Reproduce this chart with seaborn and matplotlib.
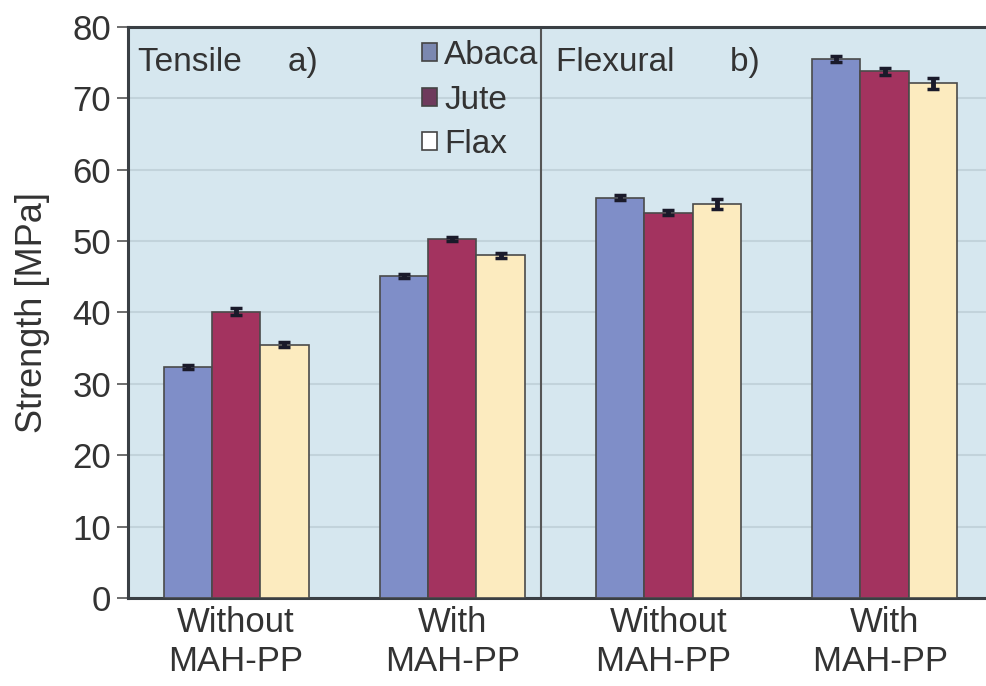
import pandas as pd
import matplotlib
matplotlib.use('Agg')
import matplotlib.pyplot as plt
import seaborn as sns
from matplotlib.patches import Patch

# ------------------------------- data -------------------------------
groups = ['Without\nMAH-PP', 'With\nMAH-PP', 'Without\nMAH-PP ', 'With\nMAH-PP ']
fibres = ['Abaca', 'Jute', 'Flax']
abaca = [32.4, 45.1, 56.1, 75.5]
jute = [40.1, 50.3, 54.0, 73.8]
flax = [35.5, 48.0, 55.2, 72.1]
abaca_err = [0.3, 0.3, 0.4, 0.4]
jute_err = [0.5, 0.3, 0.4, 0.5]
flax_err = [0.3, 0.3, 0.7, 0.8]

rows = []
for i, g in enumerate(groups):
    rows.append([g, 'Abaca', abaca[i], abaca_err[i]])
    rows.append([g, 'Jute', jute[i], jute_err[i]])
    rows.append([g, 'Flax', flax[i], flax_err[i]])
df = pd.DataFrame(rows, columns=['group', 'fibre', 'strength', 'err'])

# ------------------------------- plot -------------------------------
sns.set_style('white')
plt.rcParams['font.family'] = ['Liberation Sans', 'DejaVu Sans']
txt = '#333333'

fig = plt.figure(figsize=(9.87, 6.86), dpi=100)
ax = fig.add_axes([0.1297, 0.1283, 0.876, 0.8324])
ax.set_facecolor('#d6e7ef')

palette = {'Abaca': '#7f8ec8', 'Jute': '#a3335f', 'Flax': '#fcebbf'}
sns.barplot(data=df, x='group', y='strength', hue='fibre', hue_order=fibres,
            palette=palette, saturation=1, width=0.67, errorbar=None,
            edgecolor='#4a4a4a', linewidth=1.2, ax=ax, zorder=3, legend=False)

# error bars at the bar centres
for cont, f in zip(ax.containers, fibres):
    sub = df[df['fibre'] == f]
    xs = [b.get_x() + b.get_width() / 2 for b in cont]
    ax.errorbar(xs, sub['strength'], yerr=sub['err'], fmt='none',
                ecolor='#1a1a2a', elinewidth=3.5, capsize=4, capthick=2.5, zorder=4)

ax.set_ylim(0, 80)
ax.set_xlim(-0.5, 3.5)
ax.set_yticks(range(0, 81, 10))
ax.yaxis.grid(True, color='#c2d3db', linewidth=1.5, zorder=0)
ax.set_axisbelow(True)

ax.axvline(1.41, color='#555555', linewidth=1.5, zorder=2)

for s in ['left', 'bottom', 'top']:
    ax.spines[s].set_color('#3a3f44')
    ax.spines[s].set_linewidth(2.2)
ax.spines['right'].set_visible(False)

ax.tick_params(axis='y', direction='out', length=8, width=1.2, color='#555555',
               labelsize=25, labelcolor=txt, pad=4, left=True)
ax.tick_params(axis='x', length=0, labelsize=25, labelcolor=txt, pad=6)
for lab in ax.get_xticklabels():
    lab.set_linespacing(1.2)

ax.set_xlabel('')
ax.set_ylabel('Strength [MPa]', fontsize=26, color=txt, labelpad=16)

ax.text(0.012, 0.965, 'Tensile     a)', transform=ax.transAxes, fontsize=24,
        color=txt, va='top', ha='left')
ax.text(0.495, 0.965, 'Flexural      b)', transform=ax.transAxes, fontsize=24,
        color=txt, va='top', ha='left')

# legend
legend_cols = ['#7b88b0', '#6e3a5c', '#ffffff']
handles = [Patch(facecolor=c, edgecolor='#444444', linewidth=1.2) for c in legend_cols]
ax.legend(handles, fibres, loc='upper left', bbox_to_anchor=(0.325, 1.0),
          frameon=False, fontsize=24, handlelength=0.45, handleheight=0.45,
          handletextpad=0.2, labelspacing=0.4, borderaxespad=0,
          labelcolor=txt)

fig.savefig('out.png', dpi=100)
